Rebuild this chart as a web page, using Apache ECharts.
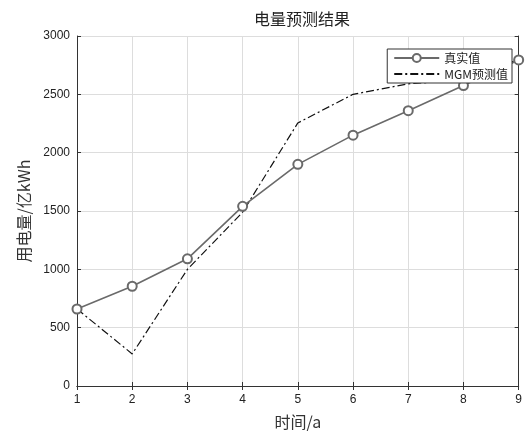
<!DOCTYPE html>
<html>
<head>
<meta charset="utf-8">
<script src="https://cdn.jsdelivr.net/npm/echarts@6/dist/echarts.min.js"></script>
<style>
html, body { margin: 0; padding: 0; background: #fff; }
#main { width: 525px; height: 435px; }
</style>
</head>
<body>
<div id="main"></div>
<script>
var years = ['1', '2', '3', '4', '5', '6', '7', '8', '9'];
var realValues = [660, 855, 1090, 1540, 1900, 2150, 2360, 2575, 2795];
var mgmValues = [660, 275, 1000, 1490, 2255, 2500, 2590, 2620, 2800];
var yTicks = [0, 500, 1000, 1500, 2000, 2500, 3000];

var myChart = echarts.init(document.getElementById('main'));
var cjk = '"Noto Sans CJK SC", sans-serif';
var option = {
    backgroundColor: '#fff',
    animation: false,
    title: {
        text: '电量预测结果',
        left: 297,
        top: 6,
        textAlign: 'center',
        textStyle: { fontFamily: cjk, fontSize: 16, fontWeight: 'normal', color: '#222' }
    },
    legend: {
        orient: 'vertical',
        right: 13,
        top: 49,
        itemGap: 4,
        itemWidth: 45,
        itemHeight: 10,
        padding: [3, 4, 3, 6],
        backgroundColor: '#fff',
        borderColor: '#333',
        borderWidth: 1,
        borderRadius: 0,
        textStyle: { fontFamily: cjk, fontSize: 12, color: '#222' },
        data: [
            { name: '真实值' },
            { name: 'MGM预测值', itemStyle: { opacity: 0 } }
        ]
    },
    grid: { left: 77, right: 6, top: 36, bottom: 48 },
    xAxis: [{
        type: 'category',
        data: years,
        boundaryGap: false,
        name: '时间/a',
        nameLocation: 'middle',
        nameGap: 28,
        nameTextStyle: { fontFamily: cjk, fontSize: 16, color: '#333' },
        axisLine: { lineStyle: { color: '#333' } },
        axisTick: { inside: true, length: 4, lineStyle: { color: '#333' } },
        axisLabel: { fontFamily: 'Liberation Sans', fontSize: 12, color: '#222', margin: 8 },
        splitLine: { show: true, lineStyle: { color: '#ddd' } }
    }, {
        type: 'category',
        data: years,
        boundaryGap: false,
        position: 'top',
        axisLine: { lineStyle: { color: '#333' } },
        axisTick: { inside: true, length: 4, lineStyle: { color: '#333' } },
        axisLabel: { show: false }
    }],
    yAxis: [{
        type: 'value',
        min: yTicks[0],
        max: yTicks[yTicks.length - 1],
        interval: 500,
        name: '用电量/亿kWh',
        nameLocation: 'middle',
        nameGap: 44,
        nameTextStyle: { fontFamily: cjk, fontSize: 16, color: '#333' },
        axisLine: { show: true, lineStyle: { color: '#333' } },
        axisTick: { show: true, inside: true, length: 4, lineStyle: { color: '#333' } },
        axisLabel: {
            fontFamily: 'Liberation Sans', fontSize: 12, color: '#222', margin: 7,
            formatter: function (v) { return String(v); }
        },
        splitLine: { show: true, lineStyle: { color: '#ddd' } }
    }, {
        type: 'value',
        min: yTicks[0],
        max: yTicks[yTicks.length - 1],
        interval: 500,
        position: 'right',
        axisLine: { show: true, lineStyle: { color: '#333' } },
        axisTick: { show: true, inside: true, length: 4, lineStyle: { color: '#333' } },
        axisLabel: { show: false },
        splitLine: { show: false }
    }],
    series: [
        {
            name: '真实值',
            type: 'line',
            data: realValues,
            symbol: 'emptyCircle',
            symbolSize: 9,
            z: 3,
            lineStyle: { color: '#6a6a6a', width: 1.6 },
            itemStyle: { color: '#6a6a6a', borderWidth: 1.3 }
        },
        {
            name: 'MGM预测值',
            type: 'line',
            data: mgmValues,
            symbol: 'none',
            z: 2,
            lineStyle: { color: '#111', width: 1.2, type: [8, 3, 2, 3] },
            itemStyle: { color: '#111' }
        }
    ]
};
myChart.setOption(option);
</script>
</body>
</html>
